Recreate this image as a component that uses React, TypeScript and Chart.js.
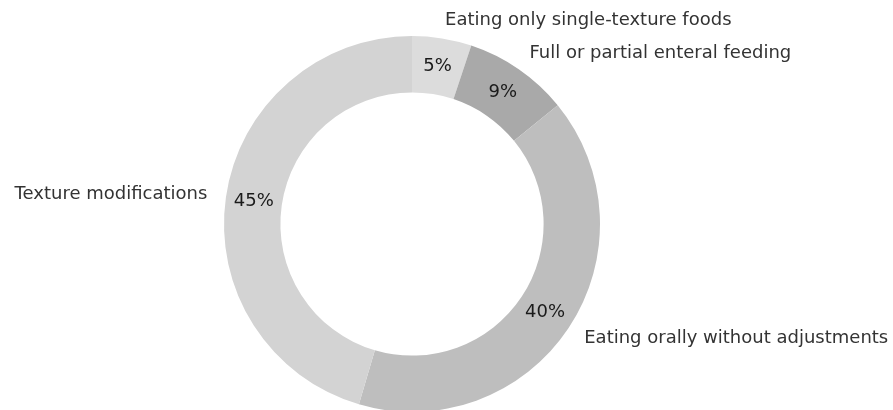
import React, { useEffect, useRef } from "react";
import { Chart, registerables } from "chart.js";

Chart.register(...registerables);

const categories = [
  "Eating only single-texture foods",
  "Full or partial enteral feeding",
  "Eating orally without adjustments",
  "Texture modifications",
];
const shares = [5.1, 9.0, 40.4, 45.4];
const sliceColors = ["#dcdcdc", "#a9a9a9", "#bebebe", "#d3d3d3"];

const FONT = '18px "DejaVu Sans"';

const labelPlugin = {
  id: "outerLabels",
  afterDatasetsDraw(chart: any) {
    const ctx = chart.ctx as CanvasRenderingContext2D;
    const meta = chart.getDatasetMeta(0);
    const data = chart.data.datasets[0].data as number[];
    const total = data.reduce((a, b) => a + b, 0);
    ctx.save();
    ctx.font = FONT;
    ctx.textBaseline = "middle";
    meta.data.forEach((arc: any, i: number) => {
      const p = arc.getProps(["x", "y", "startAngle", "endAngle", "outerRadius"], true);
      const mid = (p.startAngle + p.endAngle) / 2;
      const c = Math.cos(mid);
      const s = Math.sin(mid);
      // category label
      const lx = p.x + c * p.outerRadius * 1.1;
      const ly = p.y + s * p.outerRadius * 1.1;
      ctx.fillStyle = "#333333";
      ctx.textAlign = c >= 0 ? "left" : "right";
      ctx.fillText(chart.data.labels[i], lx, ly);
      // percent label
      const px = p.x + c * p.outerRadius * 0.85;
      const py = p.y + s * p.outerRadius * 0.85;
      ctx.fillStyle = "#1a1a1a";
      ctx.textAlign = "center";
      ctx.fillText(Math.round((data[i] / total) * 100) + "%", px, py);
    });
    ctx.restore();
  },
};

export default function App() {
  const ref = useRef<HTMLCanvasElement | null>(null);
  useEffect(() => {
    if (!ref.current) return;
    const chart = new Chart(ref.current, {
      type: "doughnut",
      data: {
        labels: categories,
        datasets: [
          {
            data: shares,
            backgroundColor: sliceColors,
            borderWidth: 0,
          },
        ],
      },
      options: {
        animation: false,
        responsive: true,
        maintainAspectRatio: false,
        radius: 188,
        cutout: "70%",
        layout: { padding: { left: 0, right: 69, top: 38, bottom: 0 } },
        plugins: {
          legend: { display: false },
          tooltip: { enabled: false },
        },
        events: [],
      },
      plugins: [labelPlugin],
    });
    return () => chart.destroy();
  }, []);
  return (
    <div style={{ position: "fixed", left: 0, top: 0, width: 893, height: 410, background: "#ffffff" }}>
      <canvas ref={ref} />
    </div>
  );
}
